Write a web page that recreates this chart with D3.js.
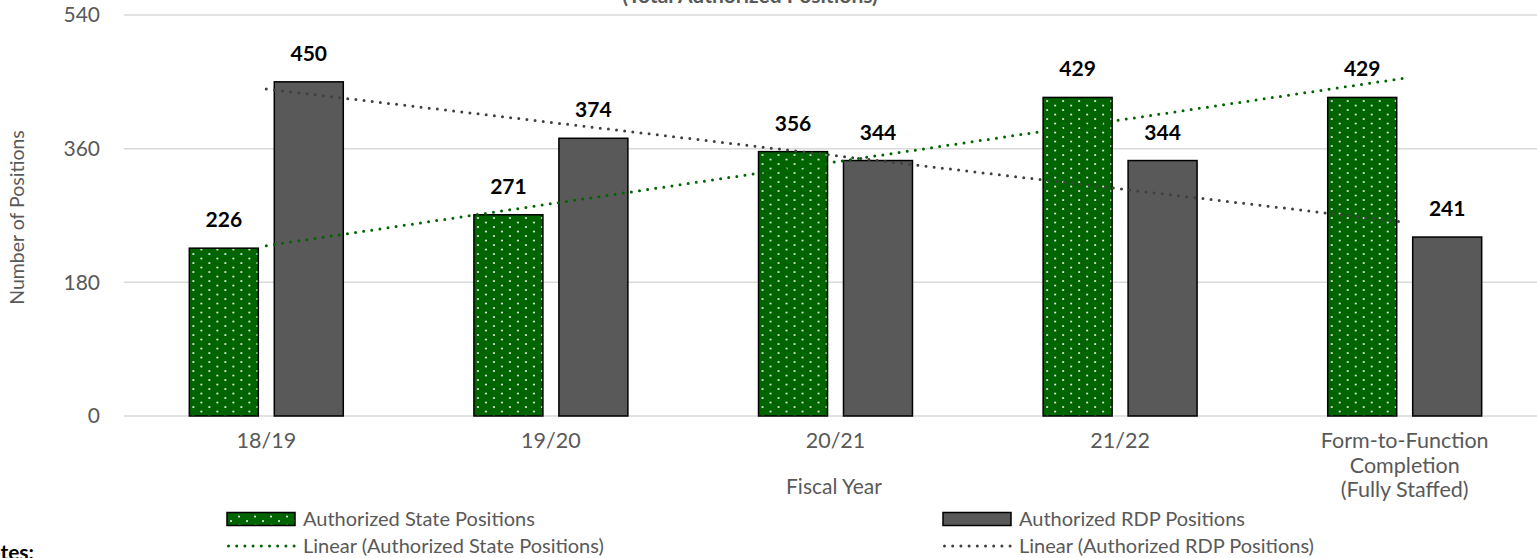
<!DOCTYPE html>
<html>
<head>
<meta charset="utf-8">
<script src="https://cdn.jsdelivr.net/npm/d3@7"></script>
<style>
  body { margin: 0; background: #fff; overflow: hidden; }
  text { font-family: Lato, "Open Sans", sans-serif; }
</style>
</head>
<body>
<div id="chart"></div>
<script>
// Data
const categories = ["18/19", "19/20", "20/21", "21/22", "Form-to-Function\nCompletion\n(Fully Staffed)"];
const statePositions = [226, 271, 356, 429, 429];
const rdpPositions = [450, 374, 344, 344, 241];
const yTicks = [0, 180, 360, 540];

const W = 1537, H = 558;
const margin = { top: 15, left: 124, bottom: 142 };
const plotRight = 1547;   // plot area runs a little past the picture edge

const svg = d3.select("#chart")
    .append("svg")
    .attr("width", W)
    .attr("height", H);

// Dotted pattern for the state bars
const defs = svg.append("defs");
const pat = defs.append("pattern")
    .attr("id", "dots")
    .attr("patternUnits", "userSpaceOnUse")
    .attr("width", 16)
    .attr("height", 9);
pat.append("rect").attr("width", 16).attr("height", 9).attr("fill", "#006400");
pat.append("rect").attr("x", 3.2).attr("y", 1.2).attr("width", 1.7).attr("height", 1.7).attr("fill", "#fff");
pat.append("rect").attr("x", 11.2).attr("y", 5.7).attr("width", 1.7).attr("height", 1.7).attr("fill", "#fff");

// Scales
const x = d3.scaleBand()
    .domain(categories)
    .range([margin.left, plotRight])
    .paddingInner(0.459)
    .paddingOuter(0.2295);

const xs = d3.scaleBand()
    .domain(["state", "rdp"])
    .range([0, x.bandwidth()])
    .paddingInner(0.188);

const y = d3.scaleLinear()
    .domain([0, 540])
    .range([H - margin.bottom, margin.top]);

// Title (cut off at the top of the picture, as in the original)
svg.append("text")
    .attr("x", 750)
    .attr("y", 3)
    .attr("text-anchor", "middle")
    .attr("font-size", 21)
    .attr("font-weight", "bold")
    .attr("fill", "#595959")
    .text("(Total Authorized Positions)");

// Gridlines
svg.append("g")
    .selectAll("line")
    .data(yTicks)
    .join("line")
    .attr("x1", margin.left)
    .attr("x2", W)
    .attr("y1", d => y(d))
    .attr("y2", d => y(d))
    .attr("stroke", "#d9d9d9")
    .attr("stroke-width", 1.5);

// Y axis labels
const yAxis = svg.append("g")
    .attr("transform", `translate(${margin.left - 24},0)`)
    .call(d3.axisLeft(y).tickValues(yTicks).tickSize(0).tickPadding(0));
yAxis.select(".domain").remove();
yAxis.selectAll("text")
    .attr("font-family", "Lato, sans-serif")
    .attr("font-size", 21)
    .attr("fill", "#595959");

// X axis labels
const xAxis = svg.append("g")
    .attr("transform", `translate(0,${y(0)})`)
    .call(d3.axisBottom(x).tickSize(0).tickPadding(0).tickFormat(""));
xAxis.select(".domain").remove();
xAxis.selectAll(".tick").each(function (d) {
    const t = d3.select(this).append("text")
        .attr("text-anchor", "middle")
        .attr("font-size", 21.5)
        .attr("fill", "#595959");
    d.split("\n").forEach((line, i) => {
        t.append("tspan").attr("x", 0).attr("y", 32 + i * 24.5).text(line);
    });
});

// Axis titles
svg.append("text")
    .attr("x", 834)
    .attr("y", 494)
    .attr("text-anchor", "middle")
    .attr("font-size", 21)
    .attr("fill", "#595959")
    .text("Fiscal Year");

svg.append("text")
    .attr("transform", `translate(24,${(y(0) + y(540)) / 2 + 2}) rotate(-90)`)
    .attr("text-anchor", "middle")
    .attr("font-size", 19.5)
    .attr("fill", "#595959")
    .text("Number of Positions");

// Bars
const rows = categories.map((c, i) => ({ c, state: statePositions[i], rdp: rdpPositions[i] }));
const groups = svg.append("g")
    .selectAll("g")
    .data(rows)
    .join("g")
    .attr("transform", d => `translate(${x(d.c)},0)`);

const keys = ["state", "rdp"];
const fills = { state: "url(#dots)", rdp: "#595959" };

groups.selectAll("rect")
    .data(d => keys.map(k => ({ k, v: d[k] })))
    .join("rect")
    .attr("x", d => xs(d.k))
    .attr("y", d => y(d.v))
    .attr("width", xs.bandwidth())
    .attr("height", d => y(0) - y(d.v))
    .attr("fill", d => fills[d.k])
    .attr("stroke", "#000")
    .attr("stroke-width", 1.5);

// Data labels
groups.selectAll("text.lbl")
    .data(d => keys.map(k => ({ k, v: d[k] })))
    .join("text")
    .attr("class", "lbl")
    .attr("x", d => xs(d.k) + xs.bandwidth() / 2)
    .attr("y", d => y(d.v) - 21)
    .attr("text-anchor", "middle")
    .attr("font-size", 21)
    .attr("font-weight", "bold")
    .attr("fill", "#000")
    .text(d => d.v);

// Linear trendlines (least squares over category index)
function fit(values) {
    const mx = d3.mean(values, (v, i) => i);
    const my = d3.mean(values);
    const b = d3.sum(values, (v, i) => (i - mx) * (v - my)) / d3.sum(values, (v, i) => (i - mx) ** 2);
    return i => my + b * (i - mx);
}
const cx = c => x(c) + x.bandwidth() / 2;
const trendLine = d3.line()
    .x(d => cx(d.c))
    .y(d => y(d.v));

[[statePositions, "#006400"], [rdpPositions, "#404040"]].forEach(([vals, col]) => {
    const f = fit(vals);
    const ends = [0, categories.length - 1].map(i => ({ c: categories[i], v: f(i) }));
    svg.append("path")
        .attr("d", trendLine(ends))
        .attr("fill", "none")
        .attr("stroke", col)
        .attr("stroke-width", 3)
        .attr("stroke-linecap", "round")
        .attr("stroke-dasharray", "0 8.2");
});

// Legend
const legendItems = [
    { label: "Authorized State Positions", type: "bar", fill: "url(#dots)", x: 227, y: 519 },
    { label: "Authorized RDP Positions", type: "bar", fill: "#595959", x: 943, y: 519 },
    { label: "Linear (Authorized State Positions)", type: "line", fill: "#006400", x: 227, y: 546 },
    { label: "Linear (Authorized RDP Positions)", type: "line", fill: "#404040", x: 943, y: 546 }
];
const lg = svg.append("g")
    .selectAll("g")
    .data(legendItems)
    .join("g")
    .attr("transform", d => `translate(${d.x},${d.y})`);

lg.filter(d => d.type === "bar").append("rect")
    .attr("x", 0).attr("y", -6.5)
    .attr("width", 68).attr("height", 13)
    .attr("fill", d => d.fill)
    .attr("stroke", "#000")
    .attr("stroke-width", 1.5);

lg.filter(d => d.type === "line").append("line")
    .attr("x1", 1.5).attr("x2", 68)
    .attr("stroke", d => d.fill)
    .attr("stroke-width", 3)
    .attr("stroke-linecap", "round")
    .attr("stroke-dasharray", "0 8.2");

lg.append("text")
    .attr("x", 76)
    .attr("dy", "0.35em")
    .attr("font-size", 20)
    .attr("fill", "#595959")
    .text(d => d.label);

// Notes heading, cut at the left and bottom edges as in the original
svg.append("text")
    .attr("x", 34)
    .attr("y", 560)
    .attr("text-anchor", "end")
    .attr("font-size", 21)
    .attr("font-weight", "bold")
    .attr("fill", "#000")
    .text("Notes:");
</script>
</body>
</html>
